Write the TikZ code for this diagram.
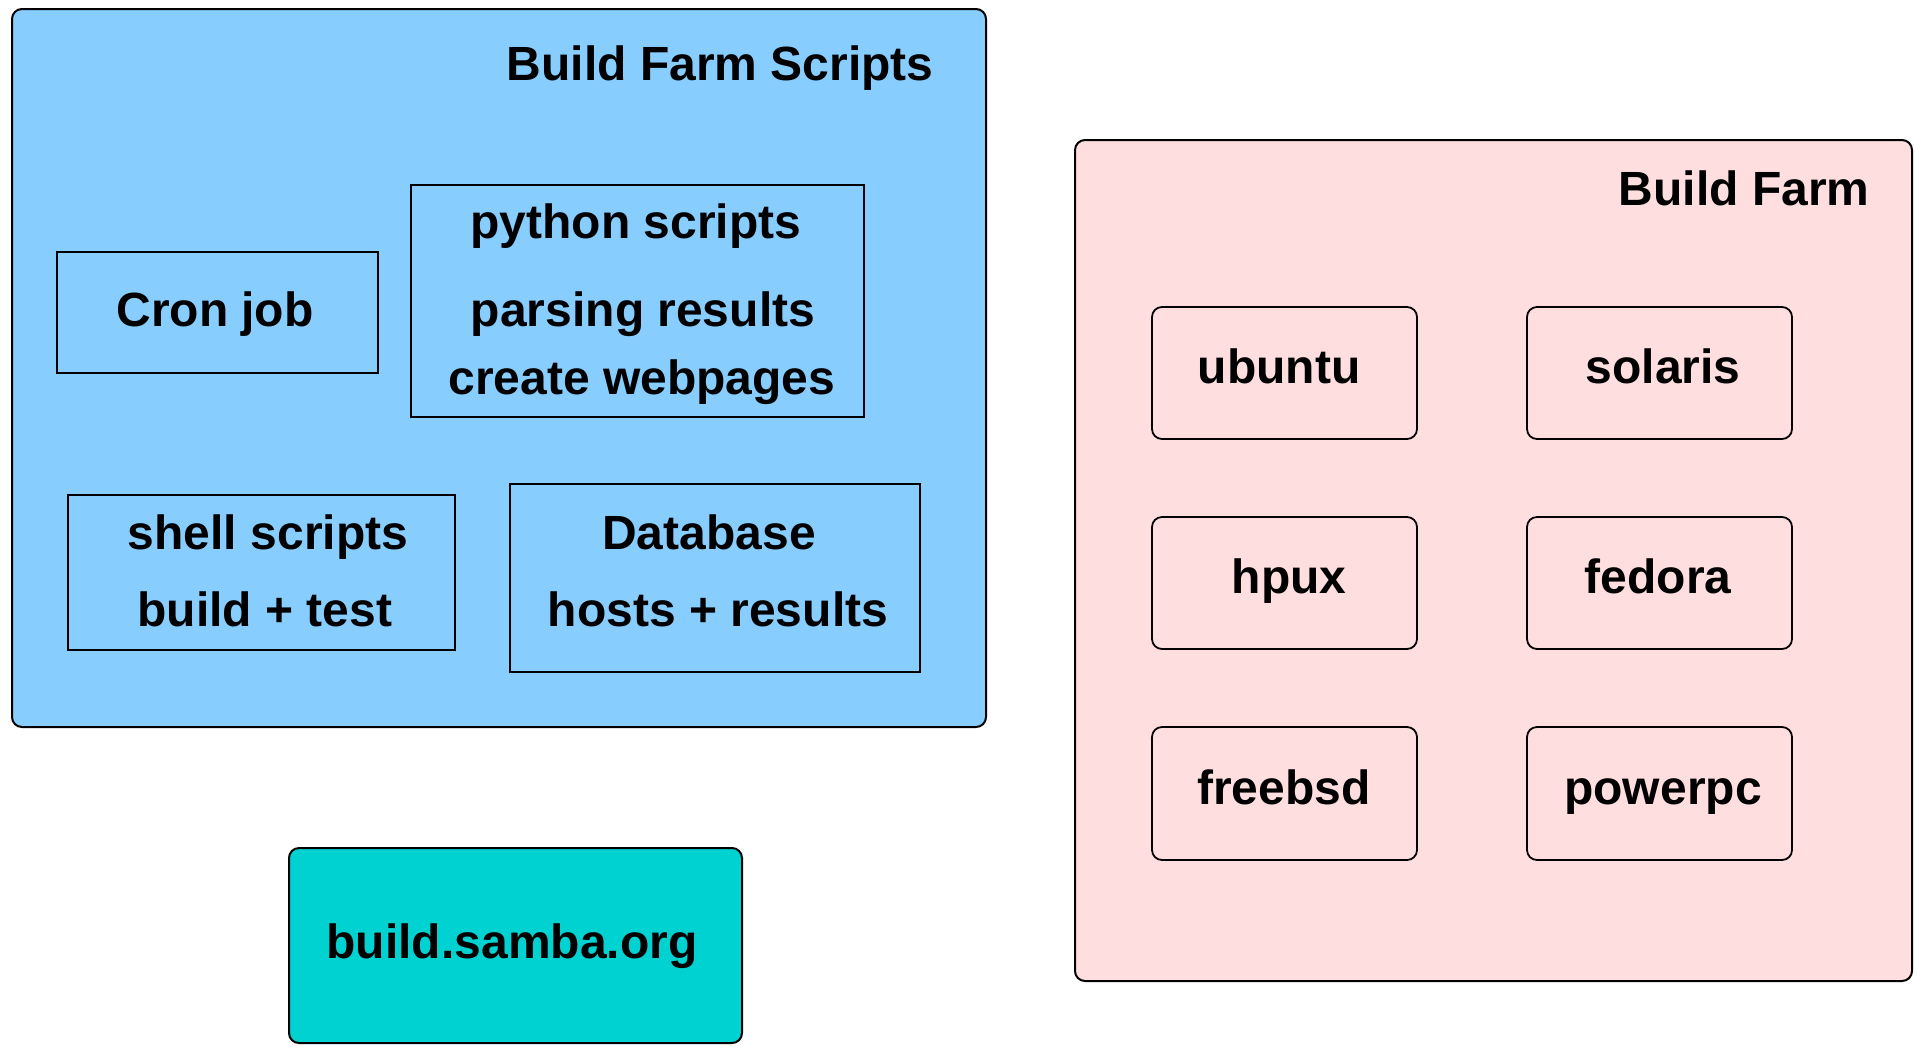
\documentclass[tikz,border=0pt]{standalone}
\usepackage{fontspec}
\setmainfont{Liberation Sans}
\usetikzlibrary{fit}
\definecolor{scriptblue}{HTML}{87CEFF}
\definecolor{farmpink}{HTML}{FFDEE0}
\definecolor{sambacyan}{HTML}{00D1D1}
\tikzset{
  frame/.style={draw=black, line width=1pt, inner sep=0pt, rounded corners=5pt},
  sqbox/.style={draw=black, line width=0.9pt, inner sep=0pt},
  rbox/.style={draw=black, line width=0.9pt, inner sep=0pt, rounded corners=5pt},
  txt/.style={font=\fontsize{24}{29}\selectfont\bfseries, inner sep=0pt, anchor=base},
}
\begin{document}
\begin{tikzpicture}[x=0.5pt,y=-0.5pt]
\useasboundingbox (0,0) rectangle (1915,1045);
% Build Farm Scripts
\node[frame, fill=scriptblue, fit={(12,9) (986,727)}] (scripts) {};
\node[txt, anchor=base east] (scriptstitle) at (934,80) {Build Farm Scripts};
\node[sqbox, fit={(57,252) (378,373)}] (cron) {};
\node[txt] (crontxt) at (215,326) {Cron job};
\node[sqbox, fit={(411,185) (864,417)}] (python) {};
\node[txt] (py1) at (636,238) {python scripts};
\node[txt] (py2) at (643,326) {parsing results};
\node[txt] (py3) at (642,394) {create webpages};
\node[sqbox, fit={(68,495) (455,650)}] (shell) {};
\node[txt] (sh1) at (268,549) {shell scripts};
\node[txt] (sh2) at (265,626) {build + test};
\node[sqbox, fit={(510,484) (920,672)}] (db) {};
\node[txt] (db1) at (709,549) {Database};
\node[txt] (db2) at (718,626) {hosts + results};
% Build Farm
\node[frame, fill=farmpink, fit={(1075,140) (1912,981)}] (farm) {};
\node[txt, anchor=base east] (farmtitle) at (1870,205) {Build Farm};
\node[rbox, fit={(1152,307) (1417,439)}] (ubuntu) {};
\node[txt] at (1279,383) {ubuntu};
\node[rbox, fit={(1527,307) (1792,439)}] (solaris) {};
\node[txt] at (1663,383) {solaris};
\node[rbox, fit={(1152,517) (1417,649)}] (hpux) {};
\node[txt] at (1289,593) {hpux};
\node[rbox, fit={(1527,517) (1792,649)}] (fedora) {};
\node[txt] at (1658,593) {fedora};
\node[rbox, fit={(1152,727) (1417,860)}] (freebsd) {};
\node[txt] at (1284,804) {freebsd};
\node[rbox, fit={(1527,727) (1792,860)}] (powerpc) {};
\node[txt] at (1663,804) {powerpc};
% build.samba.org
\node[frame, fill=sambacyan, fit={(289,848) (742,1043)}] (samba) {};
\node[txt] (sambatxt) at (512,958) {build.samba.org};
\end{tikzpicture}
\end{document}
